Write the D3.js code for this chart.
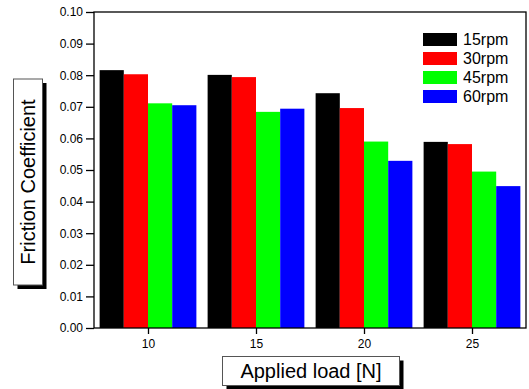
<!DOCTYPE html>
<html>
<head>
<meta charset="utf-8">
<script src="https://cdn.jsdelivr.net/npm/d3@7/dist/d3.min.js"></script>
<style>
  html, body { margin: 0; padding: 0; background: #fff; }
  svg { display: block; font-family: "Liberation Sans", Arial, sans-serif; }
</style>
</head>
<body>
<div id="chart"></div>
<script>
// applied loads [N]
const loads = [10, 15, 20, 25];
const seriesNames = ['15rpm', '30rpm', '45rpm', '60rpm'];
const seriesColors = ['#000000', '#ff0000', '#00ff00', '#0000ff'];
// friction coefficient per series, one value per load
const rpm15 = [0.0816, 0.0801, 0.0743, 0.0589];
const rpm30 = [0.0803, 0.0794, 0.0696, 0.0582];
const rpm45 = [0.0711, 0.0684, 0.0590, 0.0495];
const rpm60 = [0.0705, 0.0694, 0.0529, 0.0449];
const yTicks = [0, 0.01, 0.02, 0.03, 0.04, 0.05, 0.06, 0.07, 0.08, 0.09, 0.10];

const series = [rpm15, rpm30, rpm45, rpm60];
const W = 529, H = 389;
const plot = { left: 94, right: 526, top: 12, bottom: 328 };
const barWidth = 1.12; // in load units

const svg = d3.select('#chart').append('svg')
  .attr('width', W).attr('height', H);

const x = d3.scaleLinear().domain([7.5, 27.5]).range([plot.left, plot.right]);
const y = d3.scaleLinear().domain([0, 0.1]).range([plot.bottom, plot.top]);

// bars
series.forEach((vals, si) => {
  svg.append('g').selectAll('rect')
    .data(vals.map((v, i) => ({ load: loads[i], v })))
    .join('rect')
    .attr('x', d => x(d.load - 2 * barWidth + si * barWidth))
    .attr('width', d => x(d.load - 2 * barWidth + (si + 1) * barWidth) - x(d.load - 2 * barWidth + si * barWidth))
    .attr('y', d => y(d.v))
    .attr('height', d => y(0) - y(d.v))
    .attr('fill', seriesColors[si]);
});

// frame
svg.append('rect')
  .attr('x', plot.left).attr('y', plot.top)
  .attr('width', plot.right - plot.left).attr('height', plot.bottom - plot.top)
  .attr('fill', 'none').attr('stroke', '#000').attr('stroke-width', 1.3);

// axes
const yAxis = d3.axisLeft(y).tickValues(yTicks).tickFormat(d3.format('.2f'))
  .tickSize(8).tickPadding(3);
const yg = svg.append('g').attr('transform', `translate(${plot.left},0)`).call(yAxis);

const xAxis = d3.axisBottom(x).tickValues(loads).tickSize(6).tickPadding(5);
const xg = svg.append('g').attr('transform', `translate(0,${plot.bottom})`).call(xAxis);

[yg, xg].forEach(g => {
  g.select('.domain').remove();
  g.selectAll('.tick line').attr('stroke', '#000').attr('stroke-width', 1.3);
  g.selectAll('.tick text').attr('fill', '#000')
    .style('font-size', '12px').style('font-family', '"Liberation Sans", Arial, sans-serif');
});

// legend
const legend = svg.append('g').attr('transform', 'translate(423,33)');
seriesNames.forEach((name, i) => {
  const row = legend.append('g').attr('transform', `translate(0,${i * 19})`);
  row.append('rect').attr('width', 34).attr('height', 13).attr('fill', seriesColors[i]);
  row.append('text').attr('x', 40).attr('y', 6.5).attr('dy', '0.36em')
    .style('font-size', '16px').text(name);
});

// axis title boxes with drop shadow
function titleBox(cx, cy, w, h, label, rotate) {
  const g = svg.append('g')
    .attr('transform', `translate(${cx},${cy})` + (rotate ? ' rotate(-90)' : ''));
  const sx = rotate ? -4 : 4; // shadow goes right and down on screen
  const sy = 4;
  if (rotate) {
    g.append('rect').attr('x', -w / 2 - sy).attr('y', -h / 2 + 4)
      .attr('width', w).attr('height', h).attr('fill', '#000');
  } else {
    g.append('rect').attr('x', -w / 2 + sx).attr('y', -h / 2 + sy)
      .attr('width', w).attr('height', h).attr('fill', '#000');
  }
  g.append('rect').attr('x', -w / 2).attr('y', -h / 2)
    .attr('width', w).attr('height', h)
    .attr('fill', '#fff').attr('stroke', '#555').attr('stroke-width', 1);
  g.append('text').attr('text-anchor', 'middle').attr('dy', '0.36em')
    .style('font-size', '20px').text(label);
}

titleBox(311, 371, 177, 29, 'Applied load [N]', false);
titleBox(28, 182, 206, 29, 'Friction Coefficient', true);
</script>
</body>
</html>
